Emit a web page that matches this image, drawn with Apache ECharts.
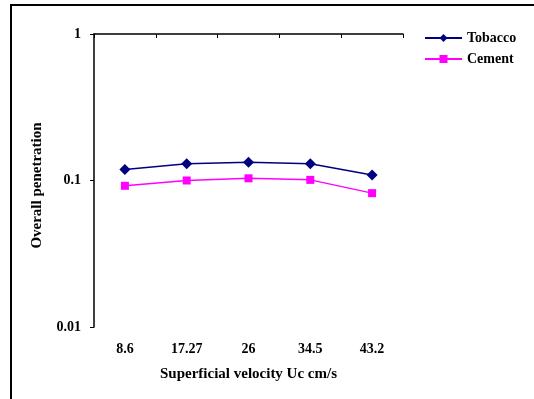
<!DOCTYPE html>
<html>
<head>
<meta charset="utf-8">
<script src="https://cdn.jsdelivr.net/npm/echarts@6/dist/echarts.min.js"></script>
<style>
html,body{margin:0;padding:0;background:#fff;}
#chart{width:534px;height:399px;}
</style>
</head>
<body>
<div id="chart"></div>
<script>
// Superficial velocity categories (cm/s)
const velocities = ['8.6', '17.27', '26', '34.5', '43.2'];
// Overall penetration per dust type
const tobacco = [0.119, 0.130, 0.133, 0.130, 0.109];
const cement = [0.092, 0.100, 0.1035, 0.101, 0.082];

const serif = '"Liberation Serif", "Times New Roman", serif';
const chart = echarts.init(document.getElementById('chart'));

chart.setOption({
  animation: false,
  backgroundColor: '#fff',
  graphic: [{
    type: 'rect',
    shape: { x: 11, y: 5, width: 600, height: 500 },
    style: { fill: 'none', stroke: '#000', lineWidth: 2 },
    silent: true
  }],
  legend: {
    left: 419,
    top: 26,
    orient: 'vertical',
    itemWidth: 37,
    itemHeight: 10,
    itemGap: 7,
    textStyle: { fontFamily: serif, fontWeight: 'bold', fontSize: 14, color: '#000' },
    data: ['Tobacco', 'Cement']
  },
  grid: { left: 94, top: 34, right: 131, bottom: 72 },
  xAxis: [{
    type: 'category',
    data: velocities,
    position: 'bottom',
    boundaryGap: true,
    axisLine: { show: false },
    axisTick: { show: false },
    axisLabel: { margin: 15, fontFamily: serif, fontWeight: 'bold', fontSize: 14, color: '#000' },
    name: 'Superficial velocity Uc cm/s',
    nameLocation: 'middle',
    nameGap: 40,
    nameTextStyle: { fontFamily: serif, fontWeight: 'bold', fontSize: 15, color: '#000' }
  }, {
    type: 'category',
    data: velocities,
    position: 'top',
    boundaryGap: true,
    axisLine: { show: true, lineStyle: { color: '#000', width: 1.5 } },
    axisTick: { show: true, inside: true, length: 4, lineStyle: { color: '#000' } },
    axisLabel: { show: false }
  }],
  yAxis: {
    type: 'log',
    logBase: 10,
    min: 0.01,
    max: 1,
    axisLine: { show: true, lineStyle: { color: '#000', width: 1.5 } },
    axisTick: { show: true, length: 4, lineStyle: { color: '#000' } },
    splitLine: { show: false },
    minorTick: { show: false },
    axisLabel: {
      margin: 13,
      fontFamily: serif, fontWeight: 'bold', fontSize: 14, color: '#000',
      formatter: v => String(+v.toPrecision(3))
    },
    name: 'Overall penetration',
    nameLocation: 'middle',
    nameGap: 49,
    nameTextStyle: { fontFamily: serif, fontWeight: 'bold', fontSize: 15, color: '#000', padding: [0, 10, 0, 0] }
  },
  series: [{
    name: 'Tobacco',
    type: 'line',
    xAxisIndex: 0,
    data: tobacco,
    symbol: 'diamond',
    symbolSize: 11,
    lineStyle: { color: '#000080', width: 1.5 },
    itemStyle: { color: '#000080' }
  }, {
    name: 'Cement',
    type: 'line',
    xAxisIndex: 0,
    data: cement,
    symbol: 'rect',
    symbolSize: 8,
    lineStyle: { color: '#FF00FF', width: 1.5 },
    itemStyle: { color: '#FF00FF' }
  }]
});
</script>
</body>
</html>
